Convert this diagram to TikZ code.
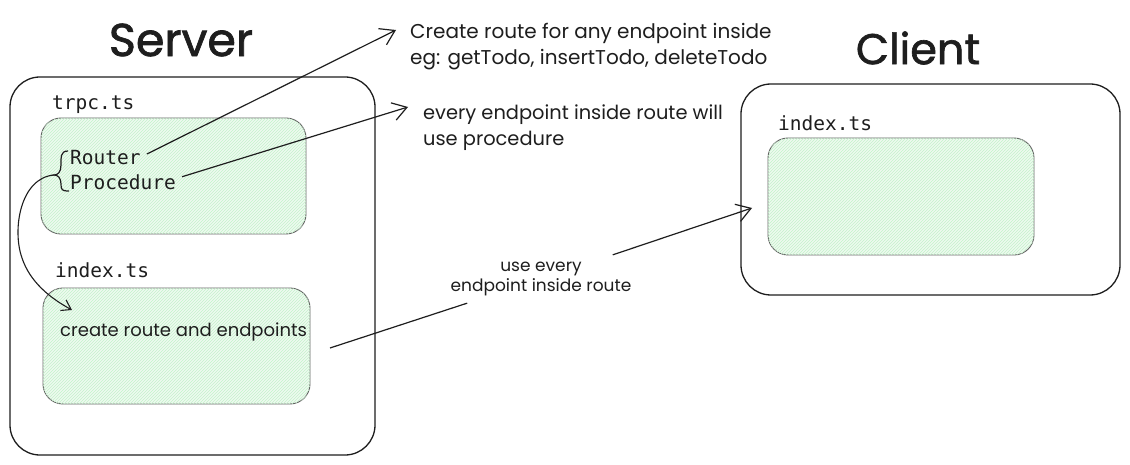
\documentclass[tikz,border=0pt]{standalone}
\usepackage{fontspec}
\setmainfont{Poppins}
\newfontfamily\titlefont[FakeBold=1.5]{Poppins}
\newfontfamily\codefont{DejaVu Sans Mono}
\usetikzlibrary{arrows.meta,patterns}
\definecolor{ink}{HTML}{1E1E1E}
\definecolor{hatch}{HTML}{C4F2CB}
\definecolor{palegreen}{HTML}{EEFAF0}
\tikzset{
  outerbox/.style={draw=ink, line width=1.3pt, rounded corners=30pt},
  greenbox/.style={draw=ink!70, line width=0.9pt, rounded corners=20pt, fill=palegreen, postaction={pattern=north east lines, pattern color=hatch}},
  title/.style={font=\titlefont\fontsize{46}{50}\selectfont, text=ink, inner sep=0pt},
  code/.style={font=\codefont\fontsize{19.5}{22}\selectfont, text=ink, inner sep=0pt, anchor=base west},
  hand/.style={font=\fontsize{18}{26}\selectfont, text=ink, inner sep=0pt},
  conn/.style={draw=ink, line width=1.2pt, -{Straight Barb[length=14pt,width=18pt,line width=1.2pt]}},
}
\begin{document}
\begin{tikzpicture}[x=1pt,y=-1pt]
\useasboundingbox[fill=white] (0,0) rectangle (1130,465);
% Server side
\node[title] (servertitle) at (181,40) {Server};
\draw[outerbox] (10,77) rectangle (375,455);
\node[code] (trpclabel) at (52,110) {trpc.ts};
\draw[greenbox] (41,118) rectangle (306,234);
\node[code] (router) at (70,165) {Router};
\node[code] (procedure) at (70,190) {Procedure};
\draw[ink, line width=1.2pt] (68,151) .. controls (60,151) and (61,158) .. (61,165) .. controls (61,172) and (58,175) .. (54,175) coordinate (bracetip) .. controls (58,175) and (61,178) .. (61,184) .. controls (61,190) and (62,191) .. (69,191);
\node[code] (indexlabel) at (55,277) {index.ts};
\draw[greenbox] (43,288) rectangle (310,404);
\node[hand, anchor=base west] (createtext) at (60,336) {create route and endpoints};
\coordinate (indexin) at (72,310);
\draw[ink, line width=1.1pt, -{Straight Barb[length=9pt,width=12pt,line width=1.1pt]}] (bracetip) .. controls (20,178) and (12,230) .. (22,258) .. controls (30,282) and (50,298) .. (indexin);
% annotations
\node[hand, font=\fontsize{20}{26}\selectfont, anchor=base west] (createnote) at (410,39) {Create route for any endpoint inside};
\node[hand, font=\fontsize{20}{26}\selectfont, anchor=base west] (egnote) at (410,65) {eg: getTodo, insertTodo, deleteTodo};
\node[hand, font=\fontsize{19.4}{26}\selectfont, anchor=base west] (everynote) at (423,120) {every endpoint inside route will};
\node[hand, font=\fontsize{19.4}{26}\selectfont, anchor=base west] (usenote) at (423,146) {use procedure};
\coordinate (routerarrowend) at (396,30);
\coordinate (procarrowend) at (408,107);
\draw[conn] (router.east) ++(6,-4) coordinate (routerout) -- (routerarrowend);
\draw[conn] (procedure.east) ++(6,-6) coordinate (procout) -- (procarrowend);
% client side
\node[title, font=\titlefont\fontsize{43}{48}\selectfont] (clienttitle) at (918,48) {Client};
\draw[outerbox] (741,84) rectangle (1120,295);
\node[code] (clientlabel) at (778,131) {index.ts};
\draw[greenbox] (768,138) rectangle (1034,255);
% use arrow, broken around its label
\node[hand, font=\fontsize{17}{20}\selectfont, align=center, inner sep=7pt] (uselabel) at (541,279) {use every\\endpoint inside route};
\coordinate (usestart) at (330,348);
\coordinate (useend) at (752,208);
\draw[draw=ink, line width=1.2pt] (usestart) -- (uselabel);
\draw[conn] (uselabel) -- (useend);
\end{tikzpicture}
\end{document}
